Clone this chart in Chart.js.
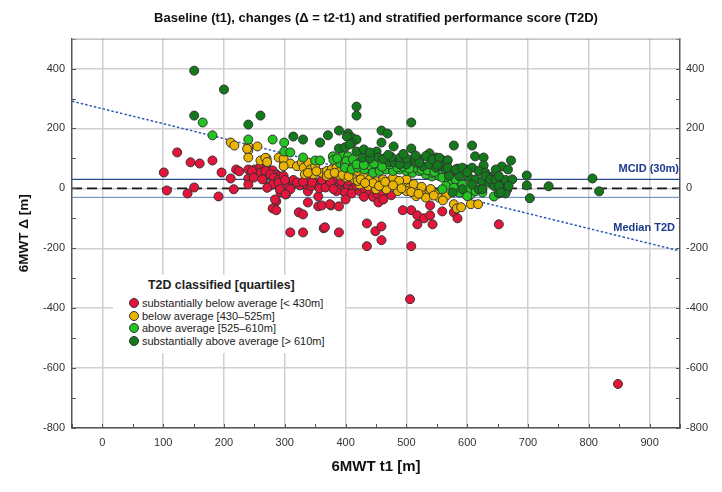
<!DOCTYPE html>
<html>
<head>
<meta charset="utf-8">
<script src="https://cdn.jsdelivr.net/npm/chart.js@4.4.1/dist/chart.umd.min.js"></script>
<style>
  body { margin: 0; background: #fff; }
  #wrap { position: relative; width: 722px; height: 492px; }
  #legend {
    position: absolute; left: 113px; top: 275px; width: 232px; height: 78px;
    background: #fff; font-family: 'Liberation Sans', Arial, sans-serif; color: #222;
  }
  #legend .ttl { position: absolute; left: 35px; top: 3px; font-weight: bold; font-size: 12.4px; line-height: 14px; }
  #legend .row { position: absolute; left: 16px; height: 14px; line-height: 14px; font-size: 11px; white-space: nowrap; }
  #legend .dot {
    display: inline-block; width: 8px; height: 8px; border-radius: 50%;
    border: 1px solid #333; vertical-align: middle; margin: -2px 3px 0 0;
  }
</style>
</head>
<body>
<div id="wrap">
  <canvas id="chart"></canvas>
  <div id="legend"></div>
</div>
<script>
// axis ranges and reference lines
const xRange = [-50, 950];
const yRange = [-800, 500];
const mcid = 30;
const medianLine = [[-50, 291], [950, -209]];

// 6MWT t1 [m], delta [m] per T2D quartile
const substantiallyBelow = [
  [101,53],[106,-7],[123,120],[140,-17],[145,87],[151,3],[160,83],[181,93],[191,-27],[196,53],
  [211,33],[216,-3],[220,63],[225,57],[240,63],[240,33],[240,13],[250,63],[260,73],[260,53],
  [265,33],[270,83],[270,63],[280,60],[280,17],[274,7],[286,47],[290,40],[293,-13],[302,-20],
  [309,7],[286,-43],[280,-67],[286,-73],[309,-147],[330,-147],[323,-80],[330,-87],[338,-47],[338,-10],
  [355,-27],[355,-60],[246,58],[268,58],[276,47],[249,36],[263,30],[282,36],[290,30],[298,41],
  [279,13],[271,2],[290,19],[303,13],[314,13],[325,10],[336,13],[344,8],[352,17],[361,8],
  [369,19],[377,13],[385,8],[393,2],[401,13],[396,-9],[385,-9],[309,-3],[292,-3],[301,-20],
  [284,-37],[382,30],[393,24],[404,36],[361,28],[336,30],[314,28],[404,8],[412,-3],[399,-14],
  [410,-17],[423,-9],[431,-3],[440,-14],[445,-28],[453,-20],[461,-17],[475,-23],[430,-28],[361,-57],
  [376,-57],[389,-60],[400,-37],[364,-133],[389,-147],[366,-130],[435,-117],[449,-143],[459,-127],[459,-173],
  [435,-193],[454,-47],[462,-37],[494,-73],[508,-73],[518,-90],[518,-120],[529,-100],[539,-57],[539,-90],
  [543,-120],[559,-77],[578,-80],[584,-100],[652,-120],[508,-193],[506,-370],[848,-653],[374,-53],
  [320,20],[330,22],[345,20],[357,0],[367,3],[375,22],[380,-2],[405,25],[418,10],[300,28]
];
const belowAverage = [
  [211,153],[217,143],[240,140],[240,127],[255,140],[240,103],[260,93],[270,100],[290,103],[299,87],
  [299,77],[309,83],[238,132],[268,102],[271,88],[298,99],[298,74],[320,74],[328,86],[331,69],
  [339,86],[342,63],[350,74],[361,52],[369,58],[377,63],[385,69],[393,63],[333,47],[347,47],
  [369,41],[391,43],[338,52],[352,57],[407,52],[418,54],[401,36],[415,30],[429,39],[440,30],
  [450,24],[423,13],[437,8],[461,13],[472,19],[483,8],[494,13],[505,2],[467,-3],[486,-9],
  [500,-9],[516,-3],[527,-14],[538,-9],[549,-20],[516,-26],[532,-31],[554,-31],[565,-26],[450,-3],
  [478,36],[500,30],[578,-53],[583,-67],[590,-63],[606,-53],[618,-53],[560,-40],[420,25],[445,18],
  [462,30],[488,25],[512,14],[525,5],[540,-2],[372,48],[382,52],[395,45],[405,40],[425,30],
  [432,18],[455,8],[465,22],[478,10],[492,0],[508,-12],[520,-18],[545,-24]
];
const aboveAverage = [
  [165,220],[181,177],[240,163],[280,163],[299,153],[299,123],[309,120],[330,103],[350,93],[358,93],
  [379,107],[394,107],[404,107],[410,90],[428,70],[440,63],[451,67],[542,40],[587,23],[598,-13],
  [606,-20],[644,-27],[391,83],[399,80],[401,91],[412,97],[423,86],[434,91],[399,69],[410,63],
  [420,69],[431,63],[442,74],[445,52],[456,58],[467,63],[478,58],[489,63],[472,80],[500,58],
  [510,52],[521,58],[532,47],[543,52],[554,41],[565,47],[516,69],[554,63],[559,36],[570,24],
  [581,30],[565,8],[578,2],[592,13],[603,-3],[614,-9],[625,-14],[587,-14],[600,-26],[559,-3],
  [380,95],[386,100],[418,80],[430,78],[447,83],[460,72],[485,70],[495,72],[505,66],[525,62],
  [535,60],[546,55]
];
const substantiallyAbove = [
  [151,393],[200,330],[151,243],[240,213],[260,243],[314,173],[330,163],[358,153],[371,177],[389,193],
  [404,183],[410,170],[418,163],[410,150],[389,133],[399,137],[418,123],[418,273],[418,243],[508,220],
  [459,193],[469,183],[459,153],[479,140],[508,133],[451,123],[578,143],[608,143],[613,107],[627,103],
  [672,93],[657,73],[647,63],[667,63],[698,43],[698,10],[703,-33],[734,7],[806,33],[817,-10],
  [402,173],[407,147],[454,103],[464,100],[472,87],[480,87],[489,90],[508,93],[521,97],[538,117],
  [549,103],[559,90],[567,90],[627,77],[516,86],[527,74],[538,80],[549,69],[559,74],[532,108],
  [565,63],[500,80],[489,80],[557,97],[568,94],[576,58],[584,66],[598,63],[608,69],[619,58],
  [630,52],[641,39],[652,30],[663,28],[674,30],[570,41],[587,41],[603,36],[614,30],[625,24],
  [636,19],[647,13],[657,-1],[666,-3],[663,-17],[652,-17],[644,8],[619,-3],[608,13],[592,-3],
  [576,-14],[636,36],[543,97],[554,102],[521,86],[551,77],[568,69],[581,63],[592,69],[600,54],
  [630,41],[638,30],[647,30],[652,41],[652,8],[655,-14],[668,8],[625,-3],[428,103],[440,100],
  [462,98],[475,105],[490,103],[500,100],[430,130],[440,120],[470,112],[495,115],[515,110]
];

const groups = [
  { label: 'substantially below average [< 430m]', color: '#e5143a', pts: substantiallyBelow },
  { label: 'below average [430\u2013525m]', color: '#ebb400', pts: belowAverage },
  { label: 'above average [525\u2013610m]', color: '#22c422', pts: aboveAverage },
  { label: 'substantially above average [> 610m]', color: '#137a1c', pts: substantiallyAbove }
];

const FONT = "'Liberation Sans', Arial, sans-serif";

// legend box (drawn over the plot like in the original)
const legendEl = document.getElementById('legend');
legendEl.innerHTML = '<div class="ttl">T2D classified [quartiles]</div>' +
  groups.map((g, i) => '<div class="row" style="top:' + (21 + i * 12.6) + 'px"><span class="dot" style="background:' +
    g.color + '"></span>' + g.label.replace('<', '&lt;').replace('>', '&gt;') + '</div>').join('');

const toXY = (arr) => arr.map(([x, y]) => ({ x, y }));

const pointSets = groups.map((g, i) => ({
  label: g.label,
  data: toXY(g.pts),
  backgroundColor: g.color,
  borderColor: '#333',
  borderWidth: 1,
  pointRadius: 4.5,
  pointHoverRadius: 4.5,
  order: 3 - i
}));

const lineSet = (pts, color, width, dash) => ({
  type: 'line',
  data: toXY(pts),
  borderColor: color,
  borderWidth: width,
  borderDash: dash,
  pointRadius: 0,
  showLine: true,
  fill: false,
  order: 10
});

const datasets = pointSets.concat([
  lineSet([[xRange[0], mcid], [xRange[1], mcid]], '#2b4a8e', 1.4, []),
  lineSet([[xRange[0], -mcid], [xRange[1], -mcid]], '#6480b8', 1, []),
  lineSet([[xRange[0], 0], [xRange[1], 0]], '#1a1a1a', 1.6, [10, 5]),
  lineSet(medianLine, '#2f5bb5', 1.5, [2.5, 2])
]);

// inward tick marks + grey top frame
const innerTicks = {
  id: 'innerTicks',
  afterDraw(chart) {
    const { ctx, chartArea: a, scales } = chart;
    ctx.save();
    ctx.strokeStyle = '#555';
    ctx.lineWidth = 1;
    scales.x.ticks.forEach((t) => {
      const px = Math.round(scales.x.getPixelForValue(t.value)) + 0.5;
      ctx.beginPath(); ctx.moveTo(px, a.bottom); ctx.lineTo(px, a.bottom - 4); ctx.stroke();
    });
    scales.y.ticks.forEach((t) => {
      const py = Math.round(scales.y.getPixelForValue(t.value)) + 0.5;
      ctx.beginPath(); ctx.moveTo(a.left, py); ctx.lineTo(a.left + 4, py); ctx.stroke();
      ctx.beginPath(); ctx.moveTo(a.right, py); ctx.lineTo(a.right - 4, py); ctx.stroke();
    });
    ctx.strokeStyle = '#a0a0a0';
    ctx.beginPath(); ctx.moveTo(a.left, a.top + 0.5); ctx.lineTo(a.right, a.top + 0.5); ctx.stroke();
    ctx.restore();
  }
};

// MCID / Median labels at the right edge
const lineLabels = {
  id: 'lineLabels',
  afterDatasetsDraw(chart) {
    const { ctx, chartArea: a, scales } = chart;
    ctx.save();
    ctx.fillStyle = '#1b3a8c';
    ctx.font = 'bold 11px ' + FONT;
    ctx.textAlign = 'right';
    ctx.textBaseline = 'middle';
    ctx.fillText('MCID (30m)', a.right - 1, scales.y.getPixelForValue(mcid) - 10);
    ctx.fillText('Median T2D', a.right - 5, scales.y.getPixelForValue(-133));
    ctx.restore();
  }
};

const tickFont = { family: FONT, size: 11 };
const yTicks = {
  stepSize: 100,
  includeBounds: false,
  color: '#333',
  font: tickFont,
  autoSkip: false,
  callback: (v) => (v % 200 === 0 ? v : '')
};

new Chart(document.getElementById('chart'), {
  type: 'scatter',
  data: { datasets },
  options: {
    responsive: true,
    maintainAspectRatio: false,
    animation: false,
    events: [],
    layout: { padding: 0 },
    plugins: {
      legend: { display: false },
      tooltip: { enabled: false },
      title: {
        display: true,
        fullSize: false,
        text: 'Baseline (t1), changes (\u0394 = t2-t1) and stratified performance score (T2D)',
        color: '#111',
        font: { family: FONT, size: 13, weight: 'bold' },
        padding: { top: 11, bottom: 12 }
      }
    },
    scales: {
      x: {
        type: 'linear',
        min: xRange[0],
        max: xRange[1],
        afterFit: (s) => { s.height = 64; },
        border: { color: '#555', width: 1.5 },
        grid: {
          drawTicks: false,
          lineWidth: 1.5,
          color: (c) => (c.tick && c.tick.value % 100 === 0 ? '#d0d0d0' : 'rgba(0,0,0,0)')
        },
        ticks: {
          stepSize: 50,
          includeBounds: false,
          autoSkip: false,
          maxRotation: 0,
          padding: 8,
          color: '#333',
          font: tickFont,
          callback: (v) => (v % 100 === 0 ? v : '')
        },
        title: {
          display: true,
          text: '6MWT t1 [m]',
          color: '#111',
          font: { family: FONT, size: 15, weight: 'bold' },
          padding: { top: 0, bottom: 16 }
        }
      },
      y: {
        type: 'linear',
        position: 'left',
        min: yRange[0],
        max: yRange[1],
        afterFit: (s) => { s.width = 72; },
        border: { color: '#555', width: 1.5 },
        grid: {
          drawTicks: false,
          lineWidth: 1.5,
          color: (c) => (c.tick && c.tick.value % 200 === 0 ? '#d0d0d0' : 'rgba(0,0,0,0)')
        },
        ticks: Object.assign({ padding: 7 }, yTicks),
        title: {
          display: true,
          text: '6MWT \u0394 [m]',
          color: '#111',
          font: { family: FONT, size: 13.5, weight: 'bold' },
          padding: { top: 16, bottom: 0 }
        }
      },
      y2: {
        type: 'linear',
        position: 'right',
        min: yRange[0],
        max: yRange[1],
        afterFit: (s) => { s.width = 42; },
        border: { color: '#555', width: 1.5 },
        grid: { drawOnChartArea: false, drawTicks: false },
        ticks: Object.assign({ padding: 6 }, yTicks)
      }
    }
  },
  plugins: [innerTicks, lineLabels]
});
</script>
</body>
</html>
